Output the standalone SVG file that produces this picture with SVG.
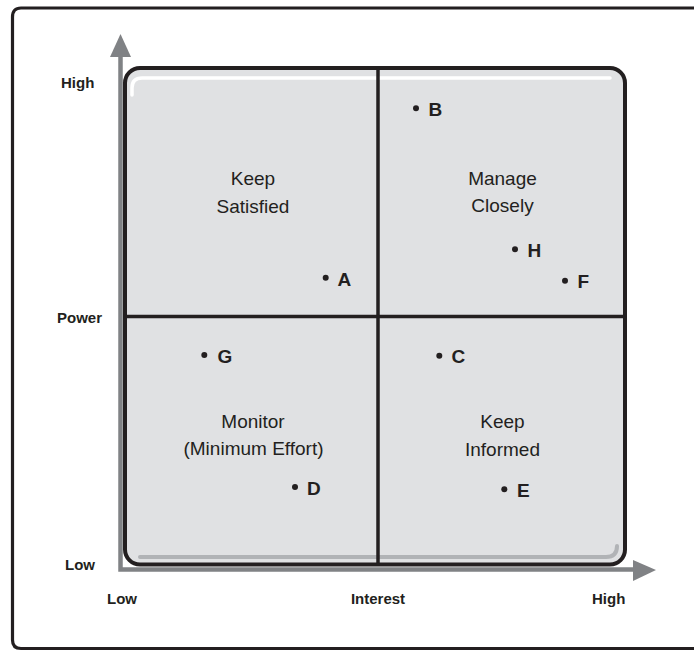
<svg xmlns="http://www.w3.org/2000/svg" width="694" height="651" viewBox="0 0 694 651">
<style>
.axl{font-family:"Liberation Sans",Arial,sans-serif;font-weight:bold;font-size:15px;fill:#231f20}
.ql{font-family:"Liberation Sans",Arial,sans-serif;font-size:19px;fill:#231f20;text-anchor:middle}
.pl{font-family:"Liberation Sans",Arial,sans-serif;font-weight:bold;font-size:19px;fill:#231f20}
.dot{fill:#231f20}
.axis{stroke:#808285;stroke-width:4.5;fill:none}
.div{stroke:#231f20;stroke-width:3.5}
</style>
<rect width="694" height="651" fill="#ffffff"/>
<g id="frame">
<path d="M700,8 H21 Q12.5,8 12.5,17 V640 Q12.5,648.5 21,648.5 H700" fill="none" stroke="#231f20" stroke-width="3.2"/>
</g>
<g id="grid">
<rect x="125" y="68" width="500" height="496.5" rx="15" ry="15" fill="#e0e1e3" stroke="#231f20" stroke-width="4"/>
<path d="M132,95 V88 Q132,78 142,78 H610" fill="none" stroke="#ffffff" stroke-width="3.5" stroke-linecap="round"/>
<path d="M140,557 H606 Q617,557 617,546" fill="none" stroke="#b1b3b6" stroke-width="4" stroke-linecap="round"/>
</g>
<g id="connectors">
<line class="div" x1="378" y1="68" x2="378" y2="564"/>
<line class="div" x1="125" y1="316.5" x2="625" y2="316.5"/>
<path class="axis" d="M120.5,56 V569.5 H634"/>
<polygon points="120.5,34 110,57 131,57" fill="#808285"/>
<polygon points="656,570 633,560 633,581" fill="#808285"/>
</g>
<g id="axis-labels">
<text class="axl" x="61" y="88">High</text>
<text class="axl" x="57" y="322.5">Power</text>
<text class="axl" x="65" y="570">Low</text>
<text class="axl" x="107" y="604">Low</text>
<text class="axl" x="378" y="604" text-anchor="middle">Interest</text>
<text class="axl" x="592" y="604">High</text>
</g>
<g id="q-keep-satisfied">
<text class="ql" x="253" y="185">Keep</text>
<text class="ql" x="253" y="212.5">Satisfied</text>
</g>
<g id="q-manage-closely">
<text class="ql" x="502.5" y="185">Manage</text>
<text class="ql" x="502.5" y="212">Closely</text>
</g>
<g id="q-monitor">
<text class="ql" x="253" y="428">Monitor</text>
<text class="ql" x="253.5" y="455">(Minimum Effort)</text>
</g>
<g id="q-keep-informed">
<text class="ql" x="502.5" y="428">Keep</text>
<text class="ql" x="502.5" y="456">Informed</text>
</g>
<g id="point-A"><circle class="dot" cx="325.7" cy="277.7" r="3"/><text class="pl" x="337.5" y="285.7">A</text></g>
<g id="point-B"><circle class="dot" cx="416" cy="108.3" r="3"/><text class="pl" x="428.5" y="116">B</text></g>
<g id="point-H"><circle class="dot" cx="515" cy="249.3" r="3"/><text class="pl" x="527.5" y="257.3">H</text></g>
<g id="point-F"><circle class="dot" cx="565" cy="280.7" r="3"/><text class="pl" x="577.5" y="288">F</text></g>
<g id="point-C"><circle class="dot" cx="439.3" cy="355.7" r="3"/><text class="pl" x="451.5" y="363.3">C</text></g>
<g id="point-G"><circle class="dot" cx="204.3" cy="355" r="3"/><text class="pl" x="217.5" y="362.7">G</text></g>
<g id="point-D"><circle class="dot" cx="295" cy="487" r="3"/><text class="pl" x="307" y="495">D</text></g>
<g id="point-E"><circle class="dot" cx="504.3" cy="489.3" r="3"/><text class="pl" x="517" y="497.3">E</text></g>
</svg>
